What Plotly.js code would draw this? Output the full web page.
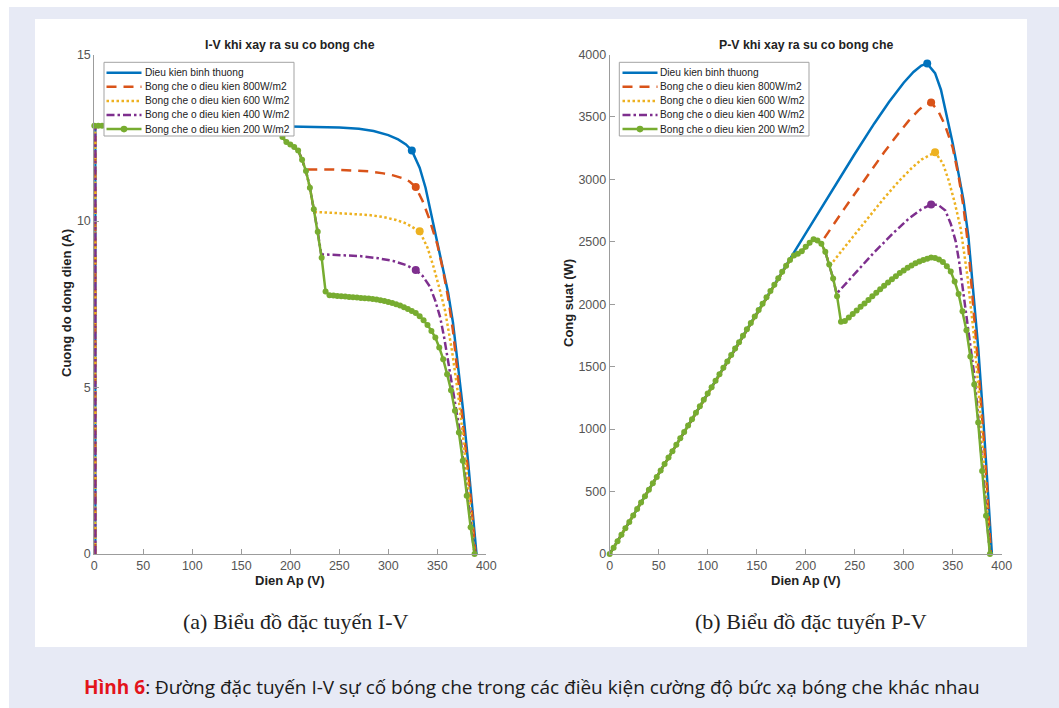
<!DOCTYPE html>
<html>
<head>
<meta charset="utf-8">
<script src="https://cdn.plot.ly/plotly-3.0.1.min.js"></script>
<style>
html,body{margin:0;padding:0;background:#ffffff;}
#chart{width:1059px;height:708px;}
</style>
</head>
<body>
<div id="chart"></div>
<script>
// ---------------- DATA ----------------
const seriesNames = [
  "Dieu kien binh thuong",
  "Bong che o dieu kien 800W/m2",
  "Bong che o dieu kien 600 W/m2",
  "Bong che o dieu kien 400 W/m2",
  "Bong che o dieu kien 200 W/m2"
];

// Normal condition
const V_blue = [1, 1, 50, 100, 150, 200, 250, 270, 285, 300, 310, 318, 324, 332, 338, 344, 350, 356, 361, 366, 371, 376, 381, 385, 388, 390];
const I_blue = [0, 12.86, 12.86, 12.86, 12.85, 12.84, 12.81, 12.77, 12.7, 12.58, 12.45, 12.3, 12.12, 11.6, 11.0, 10.2, 9.4, 8.55, 7.85, 6.95, 5.7, 4.4, 2.9, 1.65, 0.7, 0];
const P_blue = [0, 13, 643, 1286, 1928, 2568, 3203, 3448, 3620, 3774, 3860, 3911, 3927, 3851, 3718, 3509, 3290, 3044, 2834, 2544, 2115, 1654, 1105, 635, 272, 0];

// 800 W/m2
const V_orange = [1, 1, 50, 100, 150, 184, 188, 192, 196, 200, 204, 208, 212, 215.5, 240, 260, 280, 295, 305, 315, 322, 328, 335, 342, 350, 356, 361, 366, 371, 376, 381, 385, 389];
const I_orange = [0, 12.86, 12.86, 12.86, 12.85, 12.8, 12.72, 12.52, 12.37, 12.3, 12.22, 12.12, 11.84, 11.55, 11.55, 11.53, 11.49, 11.43, 11.37, 11.28, 11.18, 11.02, 10.6, 10.05, 9.3, 8.5, 7.7, 6.7, 5.4, 4.0, 2.6, 1.4, 0];
const P_orange = [0, 13, 643, 1286, 1928, 2355, 2391, 2404, 2425, 2460, 2493, 2521, 2510, 2489, 2772, 2998, 3217, 3372, 3468, 3553, 3600, 3615, 3551, 3437, 3255, 3026, 2780, 2452, 2003, 1504, 991, 539, 0];

// 600 W/m2
const V_yellow = [1, 1, 50, 100, 150, 184, 188, 192, 196, 200, 204, 208, 212, 216, 220, 224.5, 240, 260, 280, 295, 308, 318, 326, 332, 340, 346, 352, 358, 365, 371, 376, 381, 385, 388];
const I_yellow = [0, 12.86, 12.86, 12.86, 12.85, 12.8, 12.72, 12.52, 12.37, 12.3, 12.22, 12.12, 11.84, 11.5, 11.0, 10.27, 10.25, 10.22, 10.18, 10.12, 10.03, 9.93, 9.8, 9.69, 9.2, 8.64, 8.0, 7.3, 6.1, 4.85, 3.6, 2.2, 1.0, 0];
const P_yellow = [0, 13, 643, 1286, 1928, 2355, 2391, 2404, 2425, 2460, 2493, 2521, 2510, 2484, 2420, 2306, 2460, 2657, 2850, 2985, 3089, 3158, 3195, 3217, 3128, 2989, 2816, 2613, 2227, 1799, 1354, 838, 385, 0];

// 400 W/m2
const V_purple = [1, 1, 50, 100, 150, 184, 188, 192, 196, 200, 204, 208, 212, 216, 220, 224, 228, 231.5, 250, 270, 290, 305, 318, 328, 335, 342.5, 348, 353, 357, 361, 365, 368, 372, 375, 380, 385, 388];
const I_purple = [0, 12.86, 12.86, 12.86, 12.85, 12.8, 12.72, 12.52, 12.37, 12.3, 12.22, 12.12, 11.84, 11.5, 11.0, 10.35, 9.68, 9.0, 8.98, 8.95, 8.88, 8.8, 8.68, 8.53, 8.35, 8.03, 7.6, 7.1, 6.5, 5.8, 5.1, 4.6, 3.85, 3.15, 1.85, 0.72, 0];
const P_purple = [0, 13, 643, 1286, 1928, 2355, 2391, 2404, 2425, 2460, 2493, 2521, 2510, 2484, 2420, 2318, 2207, 2084, 2245, 2417, 2575, 2684, 2760, 2798, 2797, 2750, 2645, 2506, 2321, 2094, 1862, 1693, 1432, 1181, 703, 277, 0];

// 200 W/m2 (sampled points, drawn with markers)
const V_green = [0,4,8,12,16,20,24,28,32,36,40,44,48,52,56,60,64,68,72,76,80,84,88,92,96,100,104,108,112,116,120,124,128,132,136,140,144,148,152,156,160,164,168,172,176,180,184,188,192,196,200,204,208,212,216,220,224,228,232,236,240,244,248,252,256,260,264,268,272,276,280,284,288,292,296,300,304,308,312,316,320,324,328,332,336,340,344,348,352,356,360,364,368,372,376,380,384,388];
const I_green = [12.86,12.86,12.86,12.86,12.86,12.86,12.86,12.86,12.86,12.86,12.86,12.86,12.86,12.86,12.86,12.86,12.86,12.86,12.86,12.86,12.86,12.86,12.86,12.86,12.86,12.86,
  12.85,12.85,12.85,12.85,12.85,12.85,12.85,12.85,12.85,12.85,12.85,12.85,12.85,12.85,12.85,
  12.84,12.84,12.84,12.84,12.83,12.8,
  12.72,12.52,12.37,12.3,12.22,12.12,11.84,11.5,11.0,10.35,
  9.68,8.9,7.88,7.77,7.76,7.75,7.74,7.73,7.72,7.71,
  7.7,7.69,7.68,7.67,7.66,7.64,7.62,7.6,7.57,7.54,
  7.5,7.46,7.41,7.36,7.3,7.24,7.14,7.02,6.88,6.7,
  6.5,6.2,5.85,5.4,4.92,4.3,3.65,2.8,1.75,0.8,0];
const P_green = [0,51,103,154,206,257,309,360,412,463,514,566,617,669,720,772,823,874,926,977,1029,1080,1132,1183,1235,1286,
  1336,1388,1439,1491,1542,1593,1645,1696,1748,1799,1850,1902,1953,2005,2056,
  2106,2157,2208,2260,2309,2355,
  2391,2404,2425,2460,2493,2521,2510,2484,2420,2318,
  2207,2065,1860,1865,1893,1922,1950,1979,2007,2035,
  2064,2092,2120,2148,2175,2200,2225,2250,2271,2292,
  2310,2328,2342,2355,2365,2375,2370,2359,2339,2305,
  2262,2182,2083,1944,1791,1582,1358,1053,665,307,0];

// Maximum power points (marked) for the first four series
const mpp_V = [324, 328, 332, 328];
const mpp_I = [12.12, 11.02, 9.69, 8.53];
const mpp_P = [3927, 3615, 3217, 2798];

const xTicks = [0, 50, 100, 150, 200, 250, 300, 350, 400];
const iTicks = [0, 5, 10, 15];
const pTicks = [0, 500, 1000, 1500, 2000, 2500, 3000, 3500, 4000];

// ---------------- STYLES ----------------
const colors = ['#0072BD', '#D95319', '#EDB120', '#7E2F8E', '#77AC30'];
const dashes = ['solid', '10px,7px', '2.5px,2.5px', '8px,3px,2.5px,3px', 'solid'];
const LW = 2.5;

const Vs = [V_blue, V_orange, V_yellow, V_purple, V_green];
const Is = [I_blue, I_orange, I_yellow, I_purple, I_green];
const Ps = [P_blue, P_orange, P_yellow, P_purple, P_green];

const W = 1059, H = 708;
const px = v => v / W;
const py = v => 1 - v / H;

const traces = [];
for (let s = 0; s < 5; s++) {
  const isG = s === 4;
  const base = {
    mode: isG ? 'lines+markers' : 'lines',
    line: {color: colors[s], width: LW, dash: dashes[s]},
    name: seriesNames[s], showlegend: false, cliponaxis: !isG,
    hoverinfo: 'x+y+name'
  };
  if (isG) base.marker = {size: 6, color: colors[s]};
  traces.push(Object.assign({}, base, {x: Vs[s], y: Is[s], xaxis: 'x', yaxis: 'y'}));
  traces.push(Object.assign({}, base, {x: Vs[s], y: Ps[s], xaxis: 'x2', yaxis: 'y2'}));
}
traces.push({x: mpp_V, y: mpp_I, xaxis: 'x', yaxis: 'y', mode: 'markers', showlegend: false,
  marker: {size: 8, color: colors.slice(0, 4)}, hoverinfo: 'x+y'});
traces.push({x: mpp_V, y: mpp_P, xaxis: 'x2', yaxis: 'y2', mode: 'markers', showlegend: false,
  marker: {size: 8, color: colors.slice(0, 4)}, hoverinfo: 'x+y'});

const tickFont = {family: 'Liberation Sans, Arial, sans-serif', size: 12.5, color: '#555555'};
const axisBase = {
  showline: true, linecolor: '#9c9c9c', linewidth: 1,
  ticks: 'inside', ticklen: 5, tickcolor: '#9c9c9c', tickwidth: 1,
  showgrid: false, zeroline: false, mirror: false, fixedrange: true,
  tickfont: tickFont
};

const shapes = [
  {type: 'rect', xref: 'paper', yref: 'paper', x0: px(9), x1: 1, y0: 0, y1: py(7),
   fillcolor: '#e7eaf5', line: {width: 0}, layer: 'below'},
  {type: 'rect', xref: 'paper', yref: 'paper', x0: px(35), x1: px(1027), y0: py(647), y1: py(19),
   fillcolor: '#ffffff', line: {width: 0}, layer: 'below'}
];

const boldFont = {family: 'Liberation Sans, Arial, sans-serif', size: 13, color: '#222222'};
const titleFont = {family: 'Liberation Sans, Arial, sans-serif', size: 12.3, color: '#222222'};
const annotations = [
  {text: '<b>I-V khi xay ra su co bong che</b>', x: px(290), y: py(45), xref: 'paper', yref: 'paper', showarrow: false, xanchor: 'center', yanchor: 'middle', font: titleFont},
  {text: '<b>P-V khi xay ra su co bong che</b>', x: px(806), y: py(45), xref: 'paper', yref: 'paper', showarrow: false, xanchor: 'center', yanchor: 'middle', font: titleFont},
  {text: '<b>Dien Ap (V)</b>', x: px(290), y: py(580), xref: 'paper', yref: 'paper', showarrow: false, xanchor: 'center', yanchor: 'middle', font: boldFont},
  {text: '<b>Dien Ap (V)</b>', x: px(806), y: py(580), xref: 'paper', yref: 'paper', showarrow: false, xanchor: 'center', yanchor: 'middle', font: boldFont},
  {text: '<b>Cuong do dong dien (A)</b>', x: px(66), y: py(303), xref: 'paper', yref: 'paper', showarrow: false, textangle: -90, xanchor: 'center', yanchor: 'middle', font: boldFont},
  {text: '<b>Cong suat (W)</b>', x: px(568), y: py(303), xref: 'paper', yref: 'paper', showarrow: false, textangle: -90, xanchor: 'center', yanchor: 'middle', font: boldFont},
  {text: '(a) Biểu đồ đặc tuyến I-V', x: px(296), y: py(621), xref: 'paper', yref: 'paper', showarrow: false, xanchor: 'center', yanchor: 'middle', font: {family: 'Liberation Serif, Times New Roman, serif', size: 22, color: '#222222'}},
  {text: '(b) Biểu đồ đặc tuyến P-V', x: px(811), y: py(621), xref: 'paper', yref: 'paper', showarrow: false, xanchor: 'center', yanchor: 'middle', font: {family: 'Liberation Serif, Times New Roman, serif', size: 22, color: '#222222'}},
  {text: '<span style="color:#e3141b"><b>Hình 6</b></span>: Đường đặc tuyến I-V sự cố bóng che trong các điều kiện cường độ bức xạ bóng che khác nhau',
   x: px(532), y: py(687), xref: 'paper', yref: 'paper', showarrow: false, xanchor: 'center', yanchor: 'middle', font: {family: 'Open Sans, Noto Sans, sans-serif', size: 19, color: '#1a1a1a'}}
];

// Hand-placed legends (MATLAB-style compact boxes)
function addLegend(bx0, bx1, by0, by1, sx0, sx1, tx) {
  shapes.push({type: 'rect', xref: 'paper', yref: 'paper', x0: px(bx0), x1: px(bx1), y0: py(by1), y1: py(by0),
    fillcolor: '#ffffff', line: {color: '#a3a3a3', width: 1}, layer: 'above'});
  const row0 = 72.7, pitch = 14.1;
  for (let s = 0; s < 5; s++) {
    const y = row0 + s * pitch;
    shapes.push({type: 'line', xref: 'paper', yref: 'paper', x0: px(sx0), x1: px(sx1), y0: py(y), y1: py(y),
      line: {color: colors[s], width: LW, dash: dashes[s]}, layer: 'above'});
    if (s === 4) {
      const m = (sx0 + sx1) / 2;
      shapes.push({type: 'circle', xref: 'paper', yref: 'paper', x0: px(m - 3.3), x1: px(m + 3.3), y0: py(y + 3.3), y1: py(y - 3.3),
        fillcolor: colors[s], line: {width: 0}, layer: 'above'});
    }
    annotations.push({text: seriesNames[s], x: px(tx), y: py(y), xref: 'paper', yref: 'paper', showarrow: false,
      xanchor: 'left', yanchor: 'middle', borderpad: 0,
      font: {family: 'Liberation Sans, Arial, sans-serif', size: 10.2, color: '#222222'}});
  }
}
addLegend(104, 294, 62.3, 136, 106.5, 141.5, 144);
addLegend(619.3, 809, 62.3, 136, 622.5, 657.5, 659);

const layout = {
  width: W, height: H,
  margin: {l: 0, r: 0, t: 0, b: 0, pad: 0},
  paper_bgcolor: '#ffffff', plot_bgcolor: '#ffffff',
  showlegend: false,
  xaxis: Object.assign({}, axisBase, {domain: [px(94.3), px(486.3)], range: [0, 400], tickvals: xTicks, anchor: 'y'}),
  yaxis: Object.assign({}, axisBase, {domain: [py(554), py(54.5)], range: [0, 15], tickvals: iTicks, anchor: 'x'}),
  xaxis2: Object.assign({}, axisBase, {domain: [px(609.7), px(1001.7)], range: [0, 400], tickvals: xTicks, anchor: 'y2'}),
  yaxis2: Object.assign({}, axisBase, {domain: [py(554), py(54.5)], range: [0, 4000], tickvals: pTicks, anchor: 'x2'}),
  shapes: shapes,
  annotations: annotations
};

Plotly.newPlot('chart', traces, layout, {displayModeBar: false, staticPlot: true});
</script>
</body>
</html>
